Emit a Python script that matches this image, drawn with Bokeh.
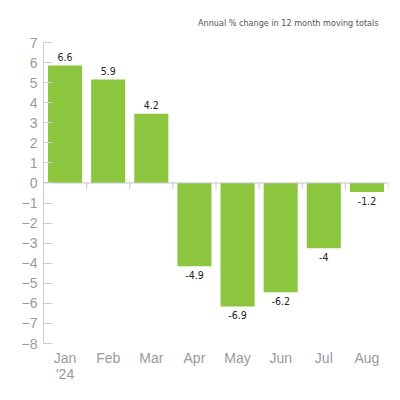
from bokeh.plotting import figure
from bokeh.models import (Range1d, FactorRange, Span, Title, ColumnDataSource,
                          CategoricalAxis, CustomJSTickFormatter)
from bokeh.transform import dodge
from bokeh.core.properties import value
from bokeh.embed import file_html
from bokeh.resources import INLINE

# values
months = ["Jan", "Feb", "Mar", "Apr", "May", "Jun", "Jul", "Aug"]
bar_heights = [5.85, 5.15, 3.45, -4.15, -6.15, -5.45, -3.25, -0.45]
bar_labels = ["6.6", "5.9", "4.2", "-4.9", "-6.9", "-6.2", "-4", "-1.2"]
year_label = "'24"
y_ticks = list(range(-8, 8))

GREEN = "#8cc63f"
LABEL_FONT = "DejaVu Sans Condensed"

src = ColumnDataSource(data=dict(
    month=months,
    height=bar_heights,
    label=bar_labels,
    zero=[0] * len(months),
    tick_end=[-0.3] * len(months),
))

p = figure(width=392, height=392, x_range=FactorRange(*months),
           y_range=Range1d(-8, 7), output_backend="svg",
           toolbar_location=None, min_border_left=43, min_border_right=4,
           min_border_top=42, min_border_bottom=49)
p.outline_line_color = None
p.xgrid.grid_line_color = None
p.ygrid.grid_line_color = None

p.vbar(x="month", top="height", width=0.79, source=src,
       fill_color=GREEN, line_color=None)

# zero line with ticks at the category boundaries
p.add_layout(Span(location=0, dimension="width", line_color="#c4c4c4", line_width=1))
p.segment(x0=dodge("month", 0.5, range=p.x_range), y0="zero",
          x1=dodge("month", 0.5, range=p.x_range), y1="tick_end",
          source=src, line_color="#c4c4c4", line_width=1)

pos = [i for i, h in enumerate(bar_heights) if h >= 0]
neg = [i for i, h in enumerate(bar_heights) if h < 0]
for idx, base, off in ((pos, "bottom", -5), (neg, "top", 5)):
    p.text(x=[months[i] for i in idx], y=[bar_heights[i] for i in idx],
           text=[bar_labels[i] for i in idx], text_align="center",
           text_baseline=base, y_offset=off, text_font_size="10.5px",
           text_font=value(LABEL_FONT), text_color="#222222")

p.yaxis.ticker = y_ticks
p.yaxis.major_tick_in = 9
p.yaxis.major_tick_out = 0
p.yaxis.minor_tick_line_color = None
p.yaxis.axis_line_color = "#cccccc"
p.yaxis.major_tick_line_color = "#cccccc"
p.yaxis.major_label_standoff = 6
p.yaxis.major_label_text_font = "Liberation Sans"
p.yaxis.major_label_text_font_size = "14px"
p.yaxis.major_label_text_color = "#9a9a9a"

p.xaxis.axis_line_color = None
p.xaxis.major_tick_line_color = None
p.xaxis.major_label_standoff = 0
p.xaxis.major_label_text_font = "Liberation Sans"
p.xaxis.major_label_text_font_size = "14px"
p.xaxis.major_label_text_color = "#9a9a9a"

# second row under Jan for the year
year_axis = CategoricalAxis(
    formatter=CustomJSTickFormatter(args=dict(yr=year_label, first=months[0]),
                                    code="return tick == first ? yr : ''"),
    axis_line_color=None, major_tick_line_color=None, major_label_standoff=-9,
    major_label_text_font="Liberation Sans", major_label_text_font_size="14px",
    major_label_text_color="#9a9a9a")
p.add_layout(year_axis, "below")

p.add_layout(Title(text="Annual % change in 12 month moving totals", align="right",
                   text_font=LABEL_FONT, text_font_size="9px",
                   text_font_style="normal", text_color="#555555",
                   offset=10, standoff=30), "above")

open("out.html", "w").write(file_html(p, INLINE))
